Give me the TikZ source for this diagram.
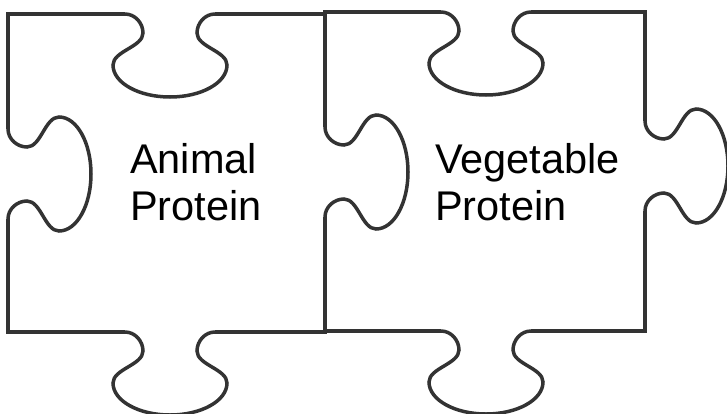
\documentclass[tikz,border=0pt]{standalone}
\usepackage{fontspec}
\setmainfont{Liberation Sans}

\begin{document}
\begin{tikzpicture}[
  x=1pt, y=-1pt,
  every node/.style={align=left, inner sep=0pt, font=\fontsize{41.5}{47}\selectfont},
  piece/.style={draw=black!80, line width=3.5pt},
  tab/.pic={
    \draw[piece] (0,0) .. controls (10,0) and (18,9) .. (18,19)
      .. controls (18,33) and (-12,37) .. (-12,51)
      .. controls (-12,69) and (14,83) .. (45,83)
      .. controls (76,83) and (102,69) .. (102,51)
      .. controls (102,37) and (72,33) .. (72,19)
      .. controls (72,9) and (80,0) .. (90,0);
  }
]
\useasboundingbox (0,0) rectangle (727,413);

% --- LEFT PIECE ---
\draw[piece] (8,129) -- (8,14) -- (125,14);
\pic at (125,14) {tab};
\draw[piece] (215,14) -- (325,14);
\pic[rotate=90] at (8,219) {tab};
\draw[piece] (8,219) -- (8,332) -- (125,332);
\pic at (125,332) {tab};
\draw[piece] (215,332) -- (325,332) -- (325,217);

\node[anchor=base west] (animal) at (130,220) {Animal\\Protein};

% --- RIGHT PIECE ---
\draw[piece] (325,127) -- (325,12) -- (441,12);
\pic at (441,12) {tab};
\draw[piece] (531,12) -- (645,12) -- (645,121);
\pic[rotate=90] at (325,217) {tab};
\pic[rotate=90] at (645,211) {tab};
\draw[piece] (645,211) -- (645,331) -- (531,331);
\pic at (441,331) {tab};
\draw[piece] (441,331) -- (325,331);

\node[anchor=base west] (vegetable) at (435,220) {Vegetable\\Protein};

\end{tikzpicture}
\end{document}
